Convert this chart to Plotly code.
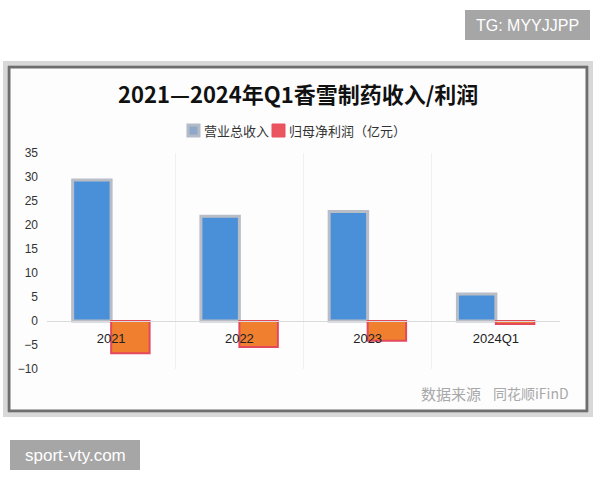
import plotly.graph_objects as go

categories = ["2021", "2022", "2023", "2024Q1"]
revenue = [29.4, 21.8, 22.8, 5.6]
net_profit = [-6.7, -5.4, -4.1, -0.6]
series_names = ["营业总收入", "归母净利润（亿元）"]
y_ticks = [-10, -5, 0, 5, 10, 15, 20, 25, 30, 35]
title_text = "2021—2024年Q1香雪制药收入/利润"
source_label = "数据来源"
source_name = "同花顺iFinD"

W, H = 600, 480
L, R, T, B = 47, 40, 153, 111
PW, PH = W - L - R, H - T - B

def px(x):
    return (x - L) / PW

def py(y):
    return (H - B - y) / PH

FONT = "Liberation Sans, Noto Sans CJK SC, sans-serif"
CJK = "Noto Sans CJK SC, sans-serif"

fig = go.Figure()
fig.add_trace(go.Bar(
    x=categories, y=revenue, name=series_names[0],
    marker=dict(color="#4a90d9", line=dict(color="#b9bec6", width=3)),
))
fig.add_trace(go.Bar(
    x=categories, y=net_profit, name=series_names[1],
    marker=dict(color="#f07f30", line=dict(color="#e4485c", width=2)),
))

shapes = [
    # card shadow + card
    dict(type="rect", xref="paper", yref="paper", x0=px(5), x1=px(591), y0=py(63), y1=py(415),
         line=dict(color="#d8d8d8", width=4), fillcolor="white", layer="below"),
    dict(type="rect", xref="paper", yref="paper", x0=px(9), x1=px(587), y0=py(67), y1=py(411),
         line=dict(color="#6e6e6e", width=3), fillcolor="#fdfdfe", layer="below"),
    # watermark boxes
    dict(type="rect", xref="paper", yref="paper", x0=px(465), x1=px(590), y0=py(10), y1=py(40),
         line=dict(width=0), fillcolor="#a6a6a6", layer="above"),
    dict(type="rect", xref="paper", yref="paper", x0=px(10), x1=px(140), y0=py(440), y1=py(470),
         line=dict(width=0), fillcolor="#a6a6a6", layer="above"),
    # legend icons
    dict(type="rect", xref="paper", yref="paper", x0=px(188), x1=px(199), y0=py(125), y1=py(136),
         line=dict(color="#b4bbc6", width=3), fillcolor="#8fa7c8", layer="above"),
    dict(type="rect", xref="paper", yref="paper", x0=px(272), x1=px(285), y0=py(124), y1=py(137),
         line=dict(color="#e8505c", width=1), fillcolor="#ea5560", layer="above"),
]

annotations = [
    dict(text="<b>" + title_text + "</b>", xref="paper", yref="paper", x=px(298), y=py(93),
         showarrow=False, xanchor="center", yanchor="middle",
         font=dict(family=CJK, size=22, color="#111111")),
    dict(text=series_names[0], xref="paper", yref="paper", x=px(202), y=py(130),
         showarrow=False, xanchor="left", yanchor="middle",
         font=dict(family=CJK, size=13, color="#333333")),
    dict(text=series_names[1], xref="paper", yref="paper", x=px(287), y=py(130),
         showarrow=False, xanchor="left", yanchor="middle",
         font=dict(family=CJK, size=13, color="#333333")),
    dict(text=source_label, xref="paper", yref="paper", x=px(419), y=py(393),
         showarrow=False, xanchor="left", yanchor="middle",
         font=dict(family=CJK, size=15, color="#a8a8a8")),
    dict(text=source_name, xref="paper", yref="paper", x=px(571), y=py(393),
         showarrow=False, xanchor="right", yanchor="middle",
         font=dict(family=CJK, size=14, color="#a8a8a8")),
    dict(text="TG: MYYJJPP", xref="paper", yref="paper", x=px(527), y=py(25),
         showarrow=False, xanchor="center", yanchor="middle",
         font=dict(family="Liberation Sans, sans-serif", size=16, color="white")),
    dict(text="sport-vty.com", xref="paper", yref="paper", x=px(75), y=py(455),
         showarrow=False, xanchor="center", yanchor="middle",
         font=dict(family="Liberation Sans, sans-serif", size=17, color="white")),
]

fig.update_layout(
    width=W, height=H,
    margin=dict(l=L, r=R, t=T, b=B, pad=0),
    paper_bgcolor="white",
    plot_bgcolor="rgba(0,0,0,0)",
    barmode="group", bargap=0.4, bargroupgap=0,
    showlegend=False,
    shapes=shapes, annotations=annotations,
    font=dict(family=FONT, size=12, color="#333333"),
    xaxis=dict(
        type="category", anchor="free", position=10 / 45,
        showline=True, linecolor="#dadada", linewidth=1,
        showgrid=True, gridcolor="#eef0f4", gridwidth=1, tickson="boundaries",
        ticks="", ticklabelstandoff=5,
        tickfont=dict(family=FONT, size=13, color="#222222"),
    ),
    yaxis=dict(
        range=[-10, 35], tickvals=y_ticks, showgrid=False, zeroline=False,
        showline=False, ticks="", ticklabelstandoff=8,
        tickfont=dict(family=FONT, size=12, color="#333333"),
    ),
)

fig.write_html(
    "out.html",
    config={"displayModeBar": False},
    post_script="document.body.style.margin='0';document.body.style.padding='0';",
)
